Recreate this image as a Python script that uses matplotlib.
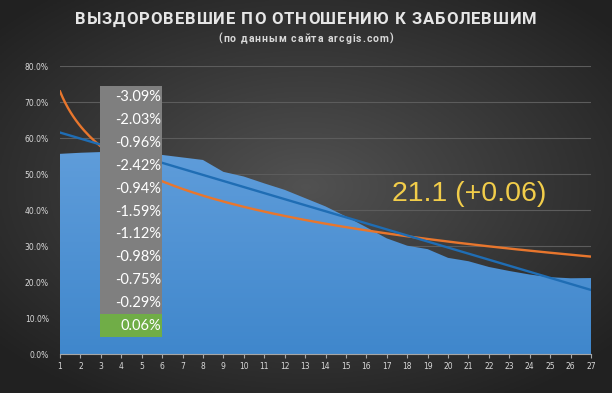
import numpy as np
import matplotlib
matplotlib.use("Agg")
import matplotlib.pyplot as plt
from matplotlib.patches import Rectangle
from matplotlib.font_manager import FontProperties
from matplotlib.textpath import TextToPath

# recovered / infected ratio, %, by day
days = list(range(1, 28))
ratio = [55.6, 55.9, 56.1, 56.2, 55.8, 55.3, 54.6, 53.9, 50.6, 49.3,
         47.4, 45.6, 43.3, 41.0, 38.2, 35.21, 32.12, 30.09, 29.13, 26.71,
         25.77, 24.18, 23.06, 22.08, 21.33, 21.04, 21.10]
yticks = [0, 10, 20, 30, 40, 50, 60, 70, 80]

title = "ВЫЗДОРОВЕВШИЕ ПО ОТНОШЕНИЮ К ЗАБОЛЕВШИМ"
subtitle = "(по данным сайта arcgis.com)"

x = np.array(days, dtype=float)
y = np.array(ratio)
changes = np.round(np.diff(y), 2)[-11:]

W, H = 612, 393
fig = plt.figure(figsize=(W / 100, H / 100), dpi=100)


def spaced_text(s, ypix, size, width, color):
    # letter-spaced text, centred, total width in pixels, ypix = baseline
    prop = FontProperties(family="Roboto", weight="bold", size=size)
    t2p = TextToPath()
    ws = [t2p.get_text_width_height_descent(ch, prop, ismath=False)[0] * 100 / 72 for ch in s]
    gap = (width - sum(ws)) / (len(s) - 1)
    xp = W / 2 - width / 2
    for ch, w in zip(s, ws):
        fig.text(xp / W, 1 - ypix / H, ch, fontproperties=prop, color=color,
                 ha="left", va="baseline")
        xp += w + gap


# radial dark background
bg = fig.add_axes([0, 0, 1, 1], zorder=-10)
gx, gy = np.meshgrid(np.linspace(-1, 1, 300), np.linspace(-1, 1, 200))
r = np.sqrt((gx * 0.95) ** 2 + ((gy + 0.05) * 1.0) ** 2)
shade = np.clip(0.32 - 0.15 * r, 0.13, 0.32)
bg.imshow(np.dstack([shade] * 3), extent=[0, 1, 0, 1], aspect="auto")
bg.set_axis_off()

ax = fig.add_axes([60 / W, 39 / H, 531 / W, 288 / H])
ax.patch.set_alpha(0)
ax.set_xlim(1, 27)
ax.set_ylim(0, 80)

# area with vertical gradient
poly = ax.fill_between(x, 0, y, color="none", lw=0)
grad = np.linspace(0, 1, 100).reshape(-1, 1)
top = np.array([0.38, 0.62, 0.86])
bot = np.array([0.25, 0.53, 0.80])
img = top * grad[..., None] + bot * (1 - grad[..., None])
im = ax.imshow(img, extent=[1, 27, 0, 60], origin="lower", aspect="auto", zorder=2)
im.set_clip_path(poly.get_paths()[0], transform=ax.transData)

# trendlines
xs = np.linspace(1, 27, 200)
k, b = np.polyfit(x, y, 1)
ax.plot(xs, k * xs + b, color="#1f6db4", lw=1.7, zorder=4)
kl, bl = np.polyfit(np.log(x), y, 1)
ax.plot(xs, kl * np.log(xs) + bl, color="#e8762d", lw=1.7, zorder=3)

ax.set_yticks(yticks)
ax.set_yticklabels([f"{v:.1f}%" for v in yticks])
ax.set_xticks(days)
ax.grid(axis="y", color="#5c5c5c", lw=0.8)
ax.set_axisbelow(True)
for s in ["top", "right", "left"]:
    ax.spines[s].set_visible(False)
ax.spines["bottom"].set_color("#a6a6a6")
ax.spines["bottom"].set_zorder(5)
ax.tick_params(axis="y", length=0, labelsize=5.5, colors="#d9d9d9", pad=8)
ax.tick_params(axis="x", length=3, labelsize=5.5, colors="#d9d9d9", pad=3, color="#a6a6a6")

ax.text(0.77, 0.556, f"{ratio[-1]:.1f} (+{changes[-1]:.2f})", transform=ax.transAxes,
        ha="center", va="center", fontsize=20.5, color="#f2cd4a", family="Liberation Sans")

# grey box with daily changes
box = fig.add_axes([100 / W, 56 / H, 62 / W, 251 / H], zorder=10)
box.set_xlim(0, 1)
box.set_ylim(0, len(changes))
box.set_axis_off()
for i, c in enumerate(changes):
    row = len(changes) - 1 - i
    fc = "#70ad47" if i == len(changes) - 1 else "#7f7f7f"
    box.add_patch(Rectangle((0, row), 1, 1, fc=fc, ec="none"))
    box.text(0.985, row + 0.5, f"{c:.2f}%", ha="right", va="center",
             fontsize=10.5, color="white", family="Lato")

spaced_text(title, 24.3, 12, 462, "#e6e6e6")
spaced_text(subtitle, 41.5, 7.5, 175, "#d9d9d9")

fig.savefig("out.png", dpi=100)
